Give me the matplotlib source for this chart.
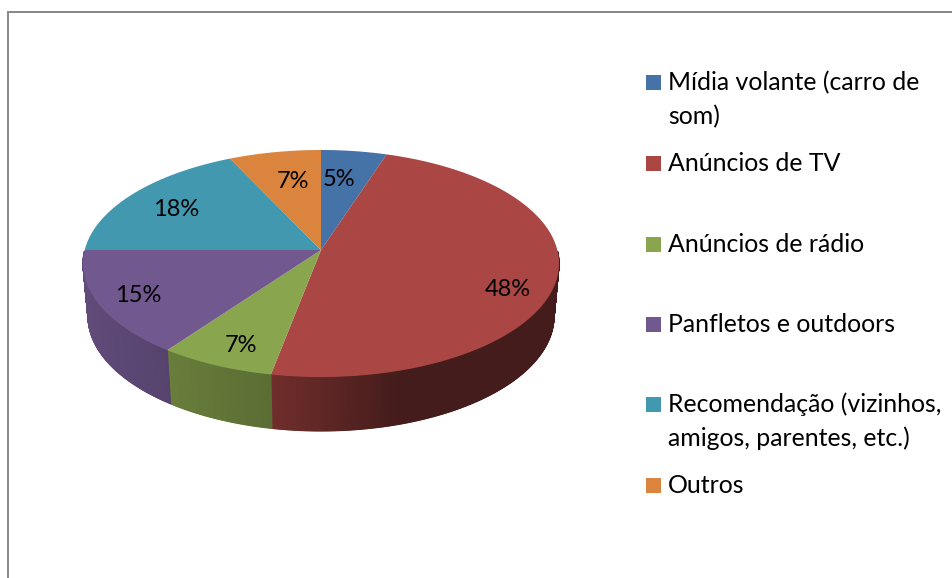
import numpy as np
from matplotlib import pyplot as plt
from matplotlib.patches import Rectangle

plt.rcParams['font.family'] = ['Lato', 'DejaVu Sans']

labels = ['Mídia volante (carro de\nsom)', 'Anúncios de TV', 'Anúncios de rádio', 'Panfletos e outdoors',
          'Recomendação (vizinhos,\namigos, parentes, etc.)', 'Outros']
values = [5, 48, 7, 15, 18, 7]
colors = ['#4572A7', '#AA4643', '#89A54E', '#71588F', '#4198AF', '#DB843D']

# layout, in pixels of the 953x578 picture
label_pos = [(339, 180), (508, 289), (241, 345), (138, 295), (176, 209), (293, 181)]
legend_y = [90, 171, 252, 332, 412, 493]
apex_x, apex_y = 321, 250
persp = 0.119


def top_rim(theta):
    # theta is clockwise from the top, the disc is seen in perspective
    u, v = np.sin(theta), np.cos(theta)
    w = 1 + persp * v
    return apex_x + 236.3 * u / w, apex_y - 111.9 * v / w


def low_rim(theta):
    x, y = top_rim(theta)
    return apex_x + (x - apex_x) * 0.979, apex_y + 52.3 + (y - apex_y) * 1.013


fig = plt.figure(figsize=(9.53, 5.78), dpi=100)
ax = fig.add_axes([0, 0, 1, 1])
ax.set_xlim(0, 953)
ax.set_ylim(578, 0)
ax.axis('off')

# chart border
ax.plot([8.5, 8.5, 953], [578, 12, 12], color='#868686', lw=1.4, solid_joinstyle='miter')

edges = np.cumsum([0] + values) / sum(values) * 2 * np.pi

# side wall, darker towards the right
for i, c in enumerate(colors):
    rgb = np.array(plt.matplotlib.colors.to_rgb(c))
    th = np.arange(edges[i], edges[i + 1] + 0.004, 0.004)
    th = th[np.cos(th) < -0.01]
    for a, b in zip(th[:-1], th[1:]):
        xt, yt = top_rim(np.array([a, b]))
        xl, yl = low_rim(np.array([b, a]))
        f = np.interp((xt[0] + xt[1]) / 2, [85, 170, 270, 350, 400, 560], [0.85, 0.76, 0.66, 0.5, 0.4, 0.4])
        col = tuple(rgb * f)
        ax.fill(np.r_[xt, xl], np.r_[yt, yl], color=col, lw=0.8, zorder=2)

# top face
for i, c in enumerate(colors):
    th = np.linspace(edges[i], edges[i + 1], 200)
    x, y = top_rim(th)
    ax.fill(np.r_[apex_x, x], np.r_[apex_y, y], color=c, lw=0, zorder=3)

for (x, y), v in zip(label_pos, values):
    ax.text(x, y, '%d%%' % v, ha='center', va='center', fontsize=17, color='black', zorder=4)

# legend
for lab, c, y in zip(labels, colors, legend_y):
    ax.add_patch(Rectangle((646, y - 15), 15, 15, facecolor=c, edgecolor='none'))
    for j, line in enumerate(lab.split('\n')):
        ax.text(668, y + j * 34, line, ha='left', va='baseline', fontsize=17.9, color='black')

plt.savefig('out.png', dpi=100)
